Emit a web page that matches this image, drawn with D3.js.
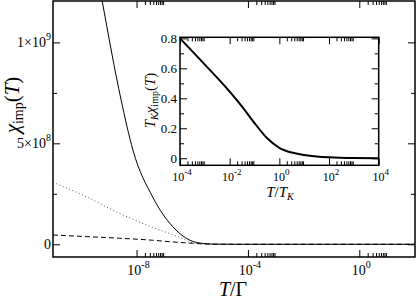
<!DOCTYPE html>
<html>
<head>
<meta charset="utf-8">
<script src="https://cdn.jsdelivr.net/npm/d3@7"></script>
<style>
  body { margin: 0; background: #fff; }
  svg { display: block; font-family: "Liberation Serif", "DejaVu Serif", serif; }
</style>
</head>
<body>
<div id="chart"></div>
<script>
// main panel: chi_imp(T) vs T/Gamma, three curves
var solidT   = [4e-10, 5.75e-10, 2.8e-9, 7.4e-9, 3.8e-8, 2e-7, 8e-7, 1.9e-6, 6e-6, 3e-5, 1e2];
var solidChi = [1.33e9, 1.21e9, 7.14e8, 4.67e8, 2.34e8, 8.7e7, 2.1e7, 6e6, 1e6, 0, 0];
var dotT     = [1e-11, 1.55e-10, 2.45e-9, 3.8e-8, 3.5e-7, 1.05e-6, 2.8e-6, 1e-5, 1e2];
var dotChi   = [3.07e8, 2.36e8, 1.53e8, 8.4e7, 3.5e7, 8e6, 1.5e6, 0, 0];
var dashT    = [1e-11, 1.55e-10, 2.45e-9, 3.8e-8, 1.5e-7, 1.05e-6, 2.8e-6, 1e-5, 1e2];
var dashChi  = [4.6e7, 3.8e7, 3.0e7, 2.0e7, 1.3e7, 5e6, 1.5e6, 0, 0];

// inset: T_K chi_imp vs T/T_K
var insetT   = [1e-4, 1e-3, 1e-2, 3.16e-2, 1e-1, 3.16e-1, 1, 3.16, 10, 31.6, 100, 1000, 1e4];
var insetVal = [0.80, 0.625, 0.445, 0.345, 0.235, 0.135, 0.07, 0.038, 0.022, 0.012, 0.006, 0.001, 0];

// ticks
var mainXMajor = [1e-8, 1e-4, 1e0];
var mainXExp   = ["-8", "-4", "0"];
var mainYMajor = [0, 5e8, 1e9];
var mainYMinor = [2.5e8, 7.5e8];
var mainYLab   = [["0", ""], ["5\u00d710", "8"], ["1\u00d710", "9"]];
var inXMajor   = [1e-4, 1e-2, 1e0, 1e2, 1e4];
var inXExp     = ["-4", "-2", "0", "2", "4"];
var inYMajor   = [0, 0.2, 0.4, 0.6, 0.8];
var inYMinor   = [0.1, 0.3, 0.5, 0.7];

function minorsOf(majors, lo, hi) {
  var out = [];
  majors.forEach(function (m) {
    for (var k = 2; k <= 9; k++) {
      var v = m * k;
      if (v > lo && v < hi) out.push(v);
    }
  });
  return out;
}

var W = 417, H = 300;
var svg = d3.select("#chart").append("svg").attr("width", W).attr("height", H);

// ---------- main panel ----------
var m = { left: 53, right: 415, top: 1, bottom: 257 };
var x = d3.scaleLog().domain([1e-11, 1e2]).range([m.left, m.right]);
var y = d3.scaleLinear().domain([-6.3e7, 1.205e9]).range([m.bottom, m.top]);
var mainXMinor = minorsOf(mainXMajor, 1e-11, 1e2);

svg.append("clipPath").attr("id", "clipMain").append("rect")
  .attr("x", m.left).attr("y", m.top)
  .attr("width", m.right - m.left).attr("height", m.bottom - m.top);

function tickAxes(g, xs, ys, xMaj, xMin, yMaj, yMin, left, right, top, bottom) {
  var hide = function (a) { a.select(".domain").remove(); a.selectAll("text").remove(); };
  g.append("g").attr("transform", "translate(0," + bottom + ")")
    .call(d3.axisBottom(xs).tickValues(xMaj).tickSize(-7).tickFormat("")).call(hide);
  g.append("g").attr("transform", "translate(0," + bottom + ")")
    .call(d3.axisBottom(xs).tickValues(xMin).tickSize(-4).tickFormat("")).call(hide);
  g.append("g").attr("transform", "translate(0," + top + ")")
    .call(d3.axisTop(xs).tickValues(xMaj).tickSize(-7).tickFormat("")).call(hide);
  g.append("g").attr("transform", "translate(0," + top + ")")
    .call(d3.axisTop(xs).tickValues(xMin).tickSize(-4).tickFormat("")).call(hide);
  g.append("g").attr("transform", "translate(" + left + ",0)")
    .call(d3.axisLeft(ys).tickValues(yMaj).tickSize(-7).tickFormat("")).call(hide);
  g.append("g").attr("transform", "translate(" + left + ",0)")
    .call(d3.axisLeft(ys).tickValues(yMin).tickSize(-4).tickFormat("")).call(hide);
  g.append("g").attr("transform", "translate(" + right + ",0)")
    .call(d3.axisRight(ys).tickValues(yMaj).tickSize(-7).tickFormat("")).call(hide);
  g.append("g").attr("transform", "translate(" + right + ",0)")
    .call(d3.axisRight(ys).tickValues(yMin).tickSize(-4).tickFormat("")).call(hide);
  g.selectAll(".tick line").attr("stroke", "#000").attr("stroke-width", 1);
}

var mainG = svg.append("g");
var line = d3.line().x(function (d) { return x(d[0]); })
  .y(function (d) { return y(d[1]); }).curve(d3.curveMonotoneX);

var curves = mainG.append("g").attr("clip-path", "url(#clipMain)");
curves.append("path").datum(d3.zip(solidT, solidChi)).attr("d", line)
  .attr("fill", "none").attr("stroke", "#000").attr("stroke-width", 1);
curves.append("path").datum(d3.zip(dotT, dotChi)).attr("d", line)
  .attr("fill", "none").attr("stroke", "#555").attr("stroke-width", 1)
  .attr("stroke-dasharray", "1,2.5");
curves.append("path").datum(d3.zip(dashT, dashChi)).attr("d", line)
  .attr("fill", "none").attr("stroke", "#000").attr("stroke-width", 1)
  .attr("stroke-dasharray", "5,3");

tickAxes(mainG, x, y, mainXMajor, mainXMinor, mainYMajor, mainYMinor,
  m.left, m.right, m.top, m.bottom);

mainG.append("rect").attr("x", m.left).attr("y", m.top)
  .attr("width", m.right - m.left).attr("height", m.bottom - m.top)
  .attr("fill", "none").attr("stroke", "#000").attr("stroke-width", 1.5);

// x tick labels 10^n
mainXMajor.forEach(function (v, i) {
  var t = mainG.append("text").attr("x", x(v) + 2).attr("y", 275)
    .attr("text-anchor", "middle").attr("font-size", 14);
  t.append("tspan").text("10");
  t.append("tspan").attr("dy", -7).attr("font-size", 10).text(mainXExp[i]);
});
// y tick labels
mainYMajor.forEach(function (v, i) {
  var t = mainG.append("text").attr("x", 51).attr("y", y(v) + 5)
    .attr("text-anchor", "end").attr("font-size", 14);
  t.append("tspan").text(mainYLab[i][0]);
  if (mainYLab[i][1]) t.append("tspan").attr("dy", -7).attr("font-size", 10).text(mainYLab[i][1]);
});

// axis titles
var xt = mainG.append("text").attr("x", 233).attr("y", 296)
  .attr("text-anchor", "middle").attr("font-size", 20);
xt.append("tspan").attr("font-style", "italic").text("T");
xt.append("tspan").text("/\u0393");

var yt = mainG.append("text").attr("transform", "translate(19,105) rotate(-90)")
  .attr("text-anchor", "middle").attr("font-size", 21);
yt.append("tspan").attr("font-style", "italic").text("\u03c7");
yt.append("tspan").attr("dy", 4).attr("font-size", 14).text("imp");
yt.append("tspan").attr("dy", -4).text("(");
yt.append("tspan").attr("font-style", "italic").text("T");
yt.append("tspan").text(")");

// ---------- inset ----------
var n = { left: 180, right: 378.7, top: 37.3, bottom: 165.3 };
var xi = d3.scaleLog().domain([1e-4, 1e4]).range([n.left, n.right]);
var yi = d3.scaleLinear().domain([-0.047, 0.807]).range([n.bottom, n.top]);
var inXMinor = minorsOf(inXMajor, 1e-4, 1e4);

var inG = svg.append("g");
inG.append("rect").attr("x", n.left).attr("y", n.top)
  .attr("width", n.right - n.left).attr("height", n.bottom - n.top).attr("fill", "#fff");

var lineI = d3.line().x(function (d) { return xi(d[0]); })
  .y(function (d) { return yi(d[1]); }).curve(d3.curveMonotoneX);
inG.append("path").datum(d3.zip(insetT, insetVal)).attr("d", lineI)
  .attr("fill", "none").attr("stroke", "#000").attr("stroke-width", 2);

tickAxes(inG, xi, yi, inXMajor, inXMinor, inYMajor, inYMinor,
  n.left, n.right, n.top, n.bottom);

inG.append("rect").attr("x", n.left).attr("y", n.top)
  .attr("width", n.right - n.left).attr("height", n.bottom - n.top)
  .attr("fill", "none").attr("stroke", "#000").attr("stroke-width", 1.5);

inXMajor.forEach(function (v, i) {
  var t = inG.append("text").attr("x", xi(v) + 2).attr("y", 181)
    .attr("text-anchor", "middle").attr("font-size", 12);
  t.append("tspan").text("10");
  t.append("tspan").attr("dy", -6).attr("font-size", 9).text(inXExp[i]);
});
inYMajor.forEach(function (v) {
  inG.append("text").attr("x", 177).attr("y", yi(v) + 4.5)
    .attr("text-anchor", "end").attr("font-size", 13)
    .text(v === 0 ? "0" : d3.format(".1f")(v));
});

var xti = inG.append("text").attr("x", 280).attr("y", 197)
  .attr("text-anchor", "middle").attr("font-size", 15);
xti.append("tspan").attr("font-style", "italic").text("T");
xti.append("tspan").text("/");
xti.append("tspan").attr("font-style", "italic").text("T");
xti.append("tspan").attr("dy", 3).attr("font-size", 10).attr("font-style", "italic").text("K");

var yti = inG.append("text").attr("transform", "translate(155,100.5) rotate(-90)")
  .attr("text-anchor", "middle").attr("font-size", 15);
yti.append("tspan").attr("font-style", "italic").text("T");
yti.append("tspan").attr("dy", 3).attr("font-size", 10).attr("font-style", "italic").text("K");
yti.append("tspan").attr("dy", -3).attr("font-style", "italic").text("\u03c7");
yti.append("tspan").attr("dy", 3).attr("font-size", 10).text("imp");
yti.append("tspan").attr("dy", -3).text("(");
yti.append("tspan").attr("font-style", "italic").text("T");
yti.append("tspan").text(")");
</script>
</body>
</html>
